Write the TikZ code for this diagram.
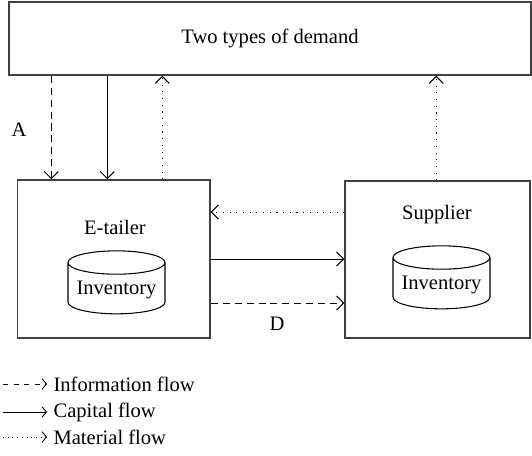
\documentclass[tikz,border=0pt]{standalone}
\usepackage{fontspec}
\setmainfont{Liberation Serif}
\usetikzlibrary{arrows.meta,shapes.geometric}
\tikzset{
  box/.style={draw=black!75, line width=0.8pt},
  stock/.style={cylinder, shape border rotate=90, draw, line width=0.6pt, aspect=0.28,
    minimum width=1.94cm, minimum height=1.26cm, inner sep=1pt},
  flow/.style={-{Straight Barb[length=4pt,width=8pt]}, line width=0.55pt},
  infoflow/.style={flow, dash pattern=on 4pt off 2.8pt},
  capflow/.style={flow},
  matflow/.style={flow, dash pattern=on 0.6pt off 3.2pt},
  keyflow/.style={-{Straight Barb[length=2.5pt,width=6pt]}, line width=0.5pt}
}

\begin{document}
\begin{tikzpicture}[font=\fontsize{11.7pt}{14pt}\selectfont]
  \useasboundingbox (0,0) rectangle (10.64,9.12);

  % boxes
  \node[box, minimum width=10.44cm, minimum height=1.46cm] (demand) at (5.40,8.35) {Two types of demand};
  \node[box, minimum width=3.85cm, minimum height=3.16cm] (etailer) at (2.275,3.94) {};
  \node[box, minimum width=3.70cm, minimum height=3.14cm] (supplier) at (8.75,3.93) {};
  \node (etlabel) at (2.30,4.58) {E-tailer};
  \node (sulabel) at (8.74,4.82) {Supplier};
  \node[stock] (etstock) at (2.33,3.32) {Inventory};
  \node[stock] (sustock) at (8.83,3.42) {Inventory};

  % flows between demand and the two parties
  \draw[infoflow] ([xshift=0.69cm]etailer.north west |- demand.south) -- ([xshift=0.69cm]etailer.north west);
  \draw[capflow] ([xshift=1.81cm]etailer.north west |- demand.south) -- ([xshift=1.81cm]etailer.north west);
  \draw[matflow] ([xshift=2.91cm]etailer.north west) -- ([xshift=2.91cm]etailer.north west |- demand.south);
  \draw[matflow] ([xshift=1.84cm]supplier.north west) -- ([xshift=1.84cm]supplier.north west |- demand.south);
  \node (a) at (0.38,6.52) {A};

  % flows between e-tailer and supplier
  \draw[matflow] ([yshift=0.94cm]etailer.east -| supplier.west) -- ([yshift=0.94cm]etailer.east);
  \draw[capflow] (etailer.east) -- (etailer.east -| supplier.west);
  \draw[infoflow] ([yshift=-0.88cm]etailer.east) -- ([yshift=-0.88cm]etailer.east -| supplier.west);
  \node (d) at (5.54,2.64) {D};

  % legend
  \coordinate (k1) at (0.06,1.44);
  \coordinate (k2) at (0.06,0.88);
  \coordinate (k3) at (0.06,0.38);
  \draw[keyflow, dash pattern=on 3pt off 3pt] (k1) -- ++(0.88,0) node[right, inner sep=3.5pt] (info) {Information flow};
  \draw[keyflow] (k2) -- ++(0.88,0) node[right, inner sep=3.5pt] (cap) {Capital flow};
  \draw[keyflow, dash pattern=on 0.5pt off 2.2pt] (k3) -- ++(0.88,0) node[right, inner sep=3.5pt] (mat) {Material flow};
\end{tikzpicture}
\end{document}
